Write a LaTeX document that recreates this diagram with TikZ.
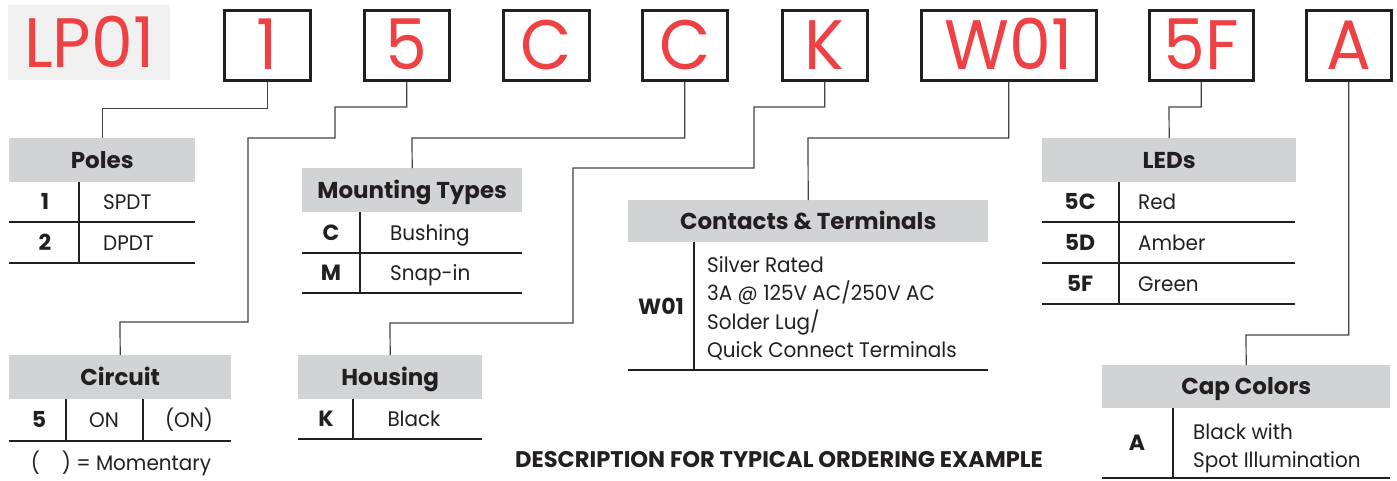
\documentclass[tikz,border=0pt]{standalone}
\usepackage{fontspec}
\setmainfont{Poppins}
\newfontfamily\topfont{Poppins}[FakeStretch=0.95]
\newfontfamily\bodyfont{Poppins}[FakeStretch=0.95]
\newfontfamily\hdrfont{Poppins}
\definecolor{redc}{HTML}{EF4044}
\definecolor{hdrc}{HTML}{D1D3D4}
\definecolor{lpc}{HTML}{F0F0F0}
\definecolor{inkc}{HTML}{231F20}
\begin{document}
\begin{tikzpicture}[x=1pt,y=-1pt,
  topbox/.style={draw=inkc, line width=2.6pt, inner sep=0pt, anchor=north west,
    minimum height=70pt, text=redc, text height=49pt, text depth=0pt,
    font=\topfont\fontsize{70}{70}\selectfont},
  hdr/.style={fill=hdrc, inner sep=0pt, anchor=north west, text=inkc,
    text height=16pt, text depth=0pt, font=\hdrfont\bfseries\fontsize{23}{23}\selectfont},
  key/.style={text=inkc, inner sep=0pt, anchor=base, font=\hdrfont\bfseries\fontsize{22}{22}\selectfont},
  val/.style={text=inkc, inner sep=0pt, anchor=base west, font=\bodyfont\fontsize{21}{21}\selectfont},
  valc/.style={val, anchor=base},
  rule/.style={draw=inkc, line width=1.1pt},
  conn/.style={draw=inkc!85, line width=1.2pt},
]
\useasboundingbox (0,0) rectangle (1397,480);

% ---- part number row ----
\node[fill=lpc, anchor=north west, minimum width=162pt, minimum height=75pt, inner sep=0pt,
  text=redc, text height=49pt, text depth=0pt, font=\topfont\fontsize{70}{70}\selectfont] (lp) at (8,5) {LP01};
\node[topbox, minimum width=86pt] (b1) at (223,9) {1};
\node[topbox, minimum width=85pt] (b5) at (363,9) {5};
\node[topbox, minimum width=86pt] (bC) at (502,9) {C};
\node[topbox, minimum width=85pt] (bC2) at (641,9) {C};
\node[topbox, minimum width=85pt] (bK) at (781,9) {K};
\node[topbox, minimum width=175pt] (bW) at (920,9) {W01};
\node[topbox, minimum width=104pt] (bF) at (1148,9) {5F};
\node[topbox, minimum width=85pt] (bA) at (1305,9) {A};

% ---- headers ----
\node[hdr, minimum width=186pt, minimum height=44pt] (polesH) at (9,138) {Poles};
\node[hdr, minimum width=220pt, minimum height=44pt] (mountH) at (302,168) {Mounting Types};
\node[hdr, minimum width=222pt, minimum height=44pt] (circH) at (9,355) {Circuit};
\node[hdr, minimum width=184pt, minimum height=44pt] (houseH) at (298,355) {Housing};
\node[hdr, minimum width=360pt, minimum height=42pt] (contH) at (628,200) {Contacts \& Terminals};
\node[hdr, minimum width=254pt, minimum height=44pt] (ledH) at (1042,138) {LEDs};
\node[hdr, minimum width=288pt, minimum height=43pt] (capH) at (1102,365) {Cap Colors};

% ---- connectors ----
\draw[conn] (b1.south) -- ++(0,27) -| (polesH.north);
\draw[conn] (b5.south) |- (335,107) |- (248,138) |- (120,322) -- (circH.north);
\draw[conn] (bC2.south) |- (412,138) -- (mountH.north);
\draw[conn] (bK.south) |- (754,107) |- (573,168) |- (390,323) -- (houseH.north);
\draw[conn] (bW.south) |- (808,138) -- (contH.north);
\draw[conn] (bF.south) |- (1169,107) -- (ledH.north);
\draw[conn] (bA.south) |- (1246,335) -- (capH.north);

% ---- Poles ----
\draw[rule] (79,182) -- (79,263);
\draw[rule] (9,222) -- (195,222);
\draw[rule] (9,263) -- (195,263);
\node[key] (p1) at (45,209) {1};
\node[val] (p1v) at (103,209) {SPDT};
\node[key] (p2) at (45,250) {2};
\node[val] (p2v) at (103,250) {DPDT};

% ---- Mounting types ----
\draw[rule] (360,212) -- (360,293);
\draw[rule] (302,253) -- (522,253);
\draw[rule] (302,293) -- (522,293);
\node[key] (mc) at (331,240) {C};
\node[val] (mcv) at (390,240) {Bushing};
\node[key] (mm) at (331,280) {M};
\node[val] (mmv) at (390,280) {Snap-in};

% ---- Circuit ----
\draw[rule] (66,399) -- (66,441);
\draw[rule] (143,399) -- (143,441);
\draw[rule] (9,441) -- (231,441);
\node[key] (c5) at (39,427) {5};
\node[valc] (con) at (104,427) {ON};
\node[valc] (coff) at (189,427) {(ON)};
\node[valc] (mom) at (121,470) {(\hspace{22pt}) = Momentary};

% ---- Housing ----
\draw[rule] (353,399) -- (353,439);
\draw[rule] (298,439) -- (482,439);
\node[key] (hk) at (326,426) {K};
\node[valc] (hkv) at (414,426) {Black};

% ---- Contacts ----
\draw[rule] (694,242) -- (694,370);
\draw[rule] (628,370) -- (988,370);
\node[key] (cw) at (661,314) {W01};
\node[val] (cw1) at (707,272) {Silver Rated};
\node[val] (cw2) at (707,300) {3A @ 125V AC/250V AC};
\node[val] (cw3) at (707,329) {Solder Lug/};
\node[val] (cw4) at (707,357) {Quick Connect Terminals};

% ---- LEDs ----
\draw[rule] (1119,182) -- (1119,304);
\draw[rule] (1042,222) -- (1295,222);
\draw[rule] (1042,263) -- (1295,263);
\draw[rule] (1042,304) -- (1295,304);
\node[key] (l1) at (1080,209) {5C};
\node[val] (l1v) at (1138,209) {Red};
\node[key] (l2) at (1080,250) {5D};
\node[val] (l2v) at (1138,250) {Amber};
\node[key] (l3) at (1080,291) {5F};
\node[val] (l3v) at (1138,291) {Green};

% ---- Cap colors ----
\draw[rule] (1173,408) -- (1173,478);
\draw[rule] (1102,478) -- (1390,478);
\node[key] (ca) at (1137,450) {A};
\node[val] (ca1) at (1193,439) {Black with};
\node[val] (ca2) at (1193,467) {Spot Illumination};

% ---- caption ----
\node[key, font=\hdrfont\bfseries\fontsize{22.6}{22.6}\selectfont] (desc) at (779,467) {DESCRIPTION FOR TYPICAL ORDERING EXAMPLE};
\end{tikzpicture}
\end{document}
